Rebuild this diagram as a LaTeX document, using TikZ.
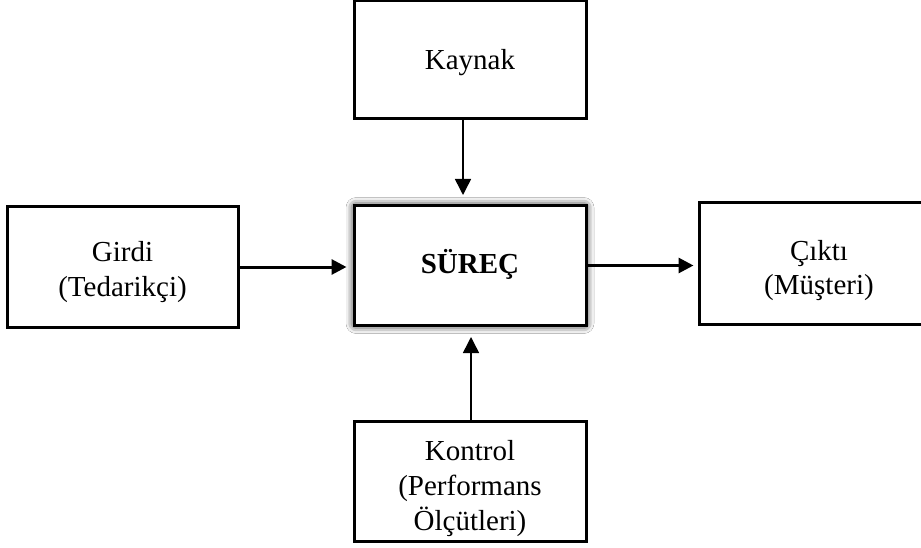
\documentclass[tikz,border=0pt]{standalone}
\usepackage{fontspec}
\setmainfont{Liberation Serif}
\usetikzlibrary{arrows.meta,shadows.blur}
\newcommand{\boxtext}[2][6pt]{\raisebox{-#1}[\height][\depth]{\begin{tabular}{@{}c@{}}#2\end{tabular}}}
\begin{document}
\begin{tikzpicture}[x=1pt,y=-1pt,
  box/.style={draw=black,line width=3pt,fill=white,inner sep=2pt,
    font=\fontsize{29}{35}\selectfont},
  thickarrow/.style={line width=3pt,-{Triangle[length=15pt,width=15pt]}},
  thinarrow/.style={line width=1.5pt,-{Triangle[length=16pt,width=16pt]}}]
\useasboundingbox[fill=white] (0,0) rectangle (921,548);
\node[box,minimum width=232pt,minimum height=118pt] (kaynak) at (470,60) {\boxtext[3pt]{Kaynak}};
\node[box,minimum width=232pt,minimum height=120pt,font=\fontsize{29}{35}\selectfont\bfseries,
  blur shadow={shadow xshift=0pt,shadow yshift=0pt,shadow blur radius=8pt,shadow opacity=100,shadow blur extra rounding=2pt}] (surec) at (470,265.5) {\boxtext[1pt]{SÜREÇ}};
\node[box,minimum width=231pt,minimum height=120pt] (girdi) at (122.5,267) {\boxtext[5pt]{Girdi\\(Tedarikçi)}};
\node[box,minimum width=240pt,minimum height=121pt] (cikti) at (819,263.5) {\boxtext[7pt]{Çıktı\\(Müşteri)}};
\node[box,minimum width=232pt,minimum height=120pt] (kontrol) at (470,481) {\boxtext[7pt]{Kontrol\\(Performans\\Ölçütleri)}};
\draw[thickarrow,shorten >=6pt] (girdi.east) -- (girdi.east -| surec.west);
\draw[thickarrow,shorten >=4pt] (surec.east) -- (surec.east -| cikti.west);
\draw[thinarrow,shorten >=9pt] ([xshift=-7pt]kaynak.south) -- ([xshift=-7pt]surec.north);
\draw[thinarrow,shorten >=10pt] ([xshift=1pt]kontrol.north) -- ([xshift=1pt]surec.south);
\end{tikzpicture}
\end{document}
